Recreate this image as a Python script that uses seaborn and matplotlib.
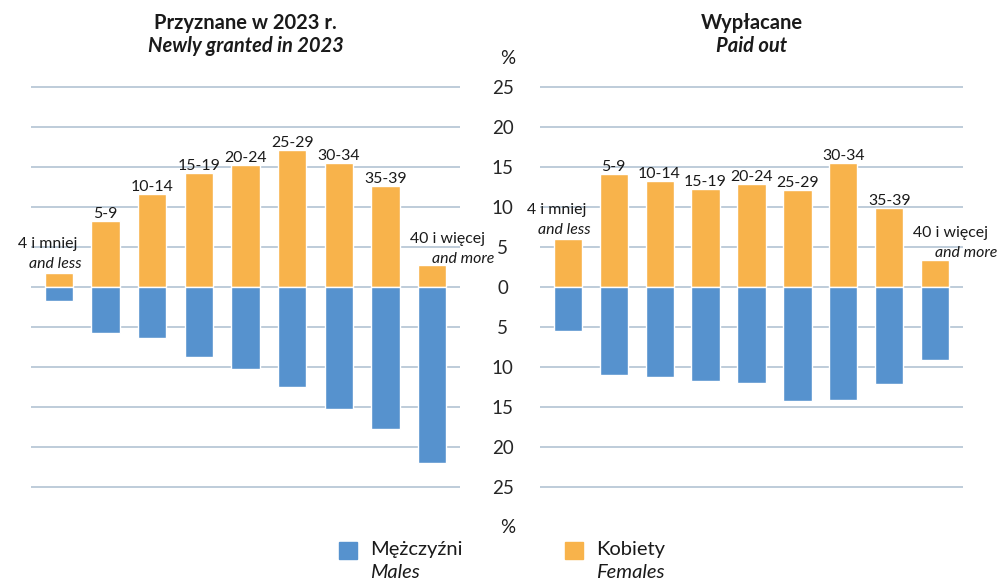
import numpy as np
import pandas as pd
import matplotlib
matplotlib.use("Agg")
import matplotlib.pyplot as plt
from matplotlib.patches import Rectangle
import seaborn as sns

# data (% of recipients, by age group)
categories = ['4 i mniej', '5-9', '10-14', '15-19', '20-24', '25-29', '30-34', '35-39', '40 i więcej']
cat_labels = ['', '5-9', '10-14', '15-19', '20-24', '25-29', '30-34', '35-39', '']
granted_females = [1.7, 8.3, 11.6, 14.2, 15.3, 17.1, 15.5, 12.6, 2.7]
granted_males = [1.7, 5.7, 6.4, 8.7, 10.2, 12.5, 15.2, 17.8, 22.0]
paid_females = [6.0, 14.1, 13.25, 12.25, 12.9, 12.1, 15.5, 9.9, 3.4]
paid_males = [5.55, 11.0, 11.3, 11.7, 12.0, 14.2, 14.1, 12.1, 9.1]
y_ticks = [-25, -20, -15, -10, -5, 0, 5, 10, 15, 20, 25]
y_tick_labels = ['25', '20', '15', '10', '5', '0', '5', '10', '15', '20', '25']

blue = '#5692CE'
orange = '#F8B34B'
grid_col = '#B9C8D7'
txt_col = '#1A1A1A'

sns.set_style('white')
plt.rcParams['font.family'] = ['Lato', 'DejaVu Sans']
plt.rcParams['text.color'] = txt_col

fig = plt.figure(figsize=(10.07, 5.84), dpi=100)
W, H = 1007, 584


def px_axes(x0, x1, y_top, y_bot):
    return fig.add_axes([x0 / W, 1 - y_bot / H, (x1 - x0) / W, (y_bot - y_top) / H])


ax_l = px_axes(31, 460, 79, 495)
ax_r = px_axes(540, 963, 79, 495)


def draw_panel(ax, females, males, title_pl, title_en):
    df = pd.DataFrame({'cat': categories, 'f': females, 'm': [-v for v in males]})
    sns.barplot(data=df, x='cat', y='f', order=categories, color=orange,
                saturation=1, width=0.61, ax=ax, zorder=3)
    sns.barplot(data=df, x='cat', y='m', order=categories, color=blue,
                saturation=1, width=0.61, ax=ax, zorder=3)
    ax.set_ylim(-26, 26)
    ax.set_xlim(-0.6, 8.6)
    ax.set_yticks(y_ticks)
    ax.set_yticklabels(y_tick_labels)
    ax.yaxis.grid(True, color=grid_col, linewidth=1.3, zorder=0)
    ax.set_axisbelow(True)
    for s in ax.spines.values():
        s.set_visible(False)
    ax.set_xlabel('')
    ax.set_ylabel('')
    ax.tick_params(bottom=False, labelbottom=False, left=False)

    # category labels above the female bars
    for i, (lab, v) in enumerate(zip(cat_labels, females)):
        if lab:
            ax.annotate(lab, (i, v), xytext=(0, 2.2), textcoords='offset points',
                        ha='center', va='baseline', fontsize=11.4)
    first, last = 0, len(categories) - 1
    ax.annotate('4 i mniej', (first, females[first]), xytext=(-8, 18.2),
                textcoords='offset points', ha='center', va='baseline', fontsize=11.4)
    ax.annotate('and less', (first, females[first]), xytext=(-2.3, 3.6),
                textcoords='offset points', ha='center', va='baseline',
                fontsize=11.4, style='italic')
    ax.annotate('40 i więcej', (last, females[last]), xytext=(11, 16.2),
                textcoords='offset points', ha='center', va='baseline', fontsize=11.4)
    ax.annotate('and more', (last, females[last]), xytext=(22.5, 1.8),
                textcoords='offset points', ha='center', va='baseline',
                fontsize=11.4, style='italic')

    ax.text(0.5, 1.0 + 56 / 416, title_pl, transform=ax.transAxes, ha='center',
            va='center', fontsize=14.5, fontweight='bold')
    ax.text(0.5, 1.0 + 33 / 416, title_en, transform=ax.transAxes, ha='center',
            va='center', fontsize=14.5, fontweight='bold', style='italic')


draw_panel(ax_l, granted_females, granted_males, 'Przyznane w 2023 r.', 'Newly granted in 2023')
draw_panel(ax_r, paid_females, paid_males, 'Wypłacane', 'Paid out')

ax_l.tick_params(labelleft=False)
ax_r.tick_params(labelleft=True, labelsize=13.5, pad=23.4)
for lab in ax_r.get_yticklabels():
    lab.set_ha('center')

# % markers above and below the value axis
ax_r.text(-32.5 / 423, 28.6, '%', transform=ax_r.get_yaxis_transform(),
          ha='center', va='center', fontsize=13.5, clip_on=False)
ax_r.text(-32.5 / 423, -30.1, '%', transform=ax_r.get_yaxis_transform(),
          ha='center', va='center', fontsize=13.5, clip_on=False)

# legend drawn by hand (two-line labels, second line italic)
legend_items = [('Mężczyźni', 'Males', blue, 339), ('Kobiety', 'Females', orange, 565)]
for pl, en, col, x0 in legend_items:
    fig.add_artist(Rectangle((x0 / W, 1 - 559 / H), 18 / W, 17 / H, color=col,
                             transform=fig.transFigure))
    fig.text((x0 + 31) / W, 1 - 550 / H, pl, ha='left', va='center', fontsize=14.5)
    fig.text((x0 + 31) / W, 1 - 573 / H, en, ha='left', va='center', fontsize=14.5,
             style='italic')

plt.savefig('out.png', dpi=100)
